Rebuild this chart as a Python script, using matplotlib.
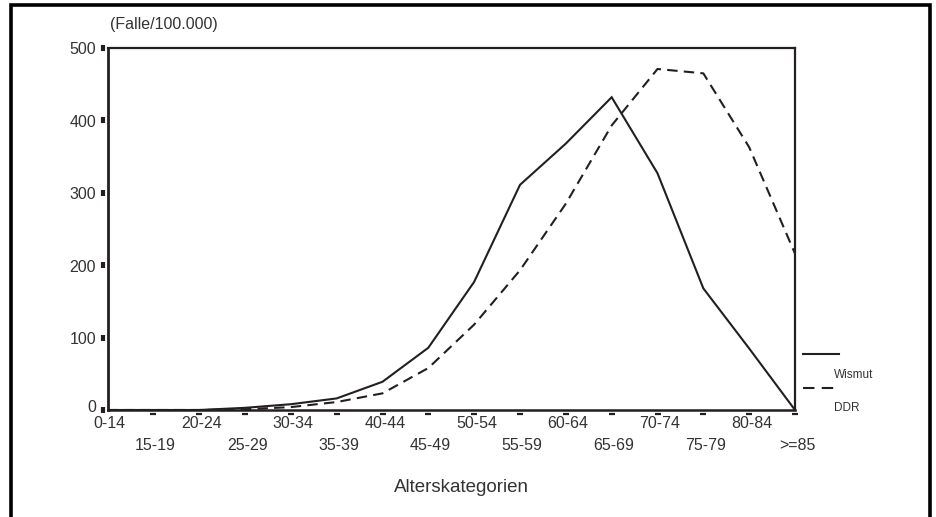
import matplotlib
matplotlib.use("Agg")
import matplotlib.pyplot as plt
from matplotlib.lines import Line2D
from matplotlib.transforms import ScaledTranslation, blended_transform_factory
import numpy as np

plt.rcParams['font.family'] = ['Liberation Sans', 'DejaVu Sans']

# Age groups and incidence per 100,000
categories = ["0-14", "15-19", "20-24", "25-29", "30-34", "35-39", "40-44", "45-49",
              "50-54", "55-59", "60-64", "65-69", "70-74", "75-79", "80-84", ">=85"]
wismut = [0, 0, 0, 3, 8, 16, 39, 86, 177, 311, 368, 432, 327, 168, 85, 0]
ddr = [0, 0, 0, 1, 4, 11, 23, 58, 118, 193, 285, 393, 471, 465, 363, 216]
y_ticks = [0, 100, 200, 300, 400, 500]

ink = "#231f20"
text_col = "#333333"
W, H = 936, 517
fig = plt.figure(figsize=(W / 100, H / 100), dpi=100)
fig.patch.set_facecolor("white")

def fx(px):
    return px / W

def fy(py):
    return 1 - py / H

ax = fig.add_axes([fx(107.5), fy(410), fx(795) - fx(107.5), fy(48) - fy(410)])
x = np.arange(len(categories))

ax.plot(x, wismut, color=ink, lw=1.5, solid_joinstyle="miter", zorder=3)
ax.plot(x, ddr, color=ink, lw=1.5, linestyle=(0, (5.0, 3.0)), zorder=3)

ax.set_xlim(0, len(categories) - 1)
ax.set_ylim(0, 500)
for sp in ax.spines.values():
    sp.set_color(ink)
    sp.set_linewidth(1.6)
ax.spines["left"].set_linewidth(2.0)
ax.spines["bottom"].set_linewidth(1.8)
ax.set_xticks([])
ax.set_yticks([])

# y ticks: small blocks detached from the spine, labels to their left
tick_off = ScaledTranslation(-5 / 100, 0, fig.dpi_scale_trans)
ax.plot(np.zeros(len(y_ticks)), y_ticks, linestyle="none", marker="|",
        markersize=5, markeredgewidth=3, color=ink,
        transform=ax.get_yaxis_transform() + tick_off, clip_on=False)
for v in y_ticks:
    ax.text(-11.5 / (795 - 107.5), v + (4 if v == 0 else -2.5), str(v),
            transform=ax.get_yaxis_transform(), ha="right", va="center",
            fontsize=11.5, color=text_col)

# x ticks: short horizontal dashes just under the axis
xt_off = ScaledTranslation(0, -3.5 / 100, fig.dpi_scale_trans)
ax.plot(x[1:], np.zeros(len(x) - 1), linestyle="none", marker="_",
        markersize=5, markeredgewidth=1.6, color=ink,
        transform=ax.get_xaxis_transform() + xt_off, clip_on=False)

# category labels alternate between two rows
label_tr = blended_transform_factory(ax.transData, fig.transFigure)
for i, lab in enumerate(categories):
    row_y = 423 if i % 2 == 0 else 446
    ax.text(i + 0.05, fy(row_y), lab, transform=label_tr,
            ha="center", va="center", fontsize=11.5, color=text_col)

fig.text(fx(461), fy(488), "Alterskategorien", ha="center", va="center",
         fontsize=13.5, color=text_col)
fig.text(fx(164), fy(25), "(Falle/100.000)", ha="center", va="center",
         fontsize=11.5, color=text_col)

# legend to the right of the plot
fig.add_artist(Line2D([fx(803), fx(839)], [fy(354), fy(354)], color=ink, lw=1.5))
fig.text(fx(834), fy(375), "Wismut", ha="left", va="center", fontsize=8.5, color=text_col)
fig.add_artist(Line2D([fx(803), fx(839)], [fy(387.5), fy(387.5)], color=ink, lw=1.5,
                      linestyle=(0, (5.5, 3.5))))
fig.text(fx(834), fy(408), "DDR", ha="left", va="center", fontsize=8.5, color=text_col)

# outer frame (open at the bottom)
fig.add_artist(Line2D([fx(11), fx(11), fx(930), fx(930)],
                      [0, fy(5), fy(5), 0], color="black", lw=2.6,
                      solid_joinstyle="miter"))

fig.savefig("out.png", dpi=100, facecolor="white")
